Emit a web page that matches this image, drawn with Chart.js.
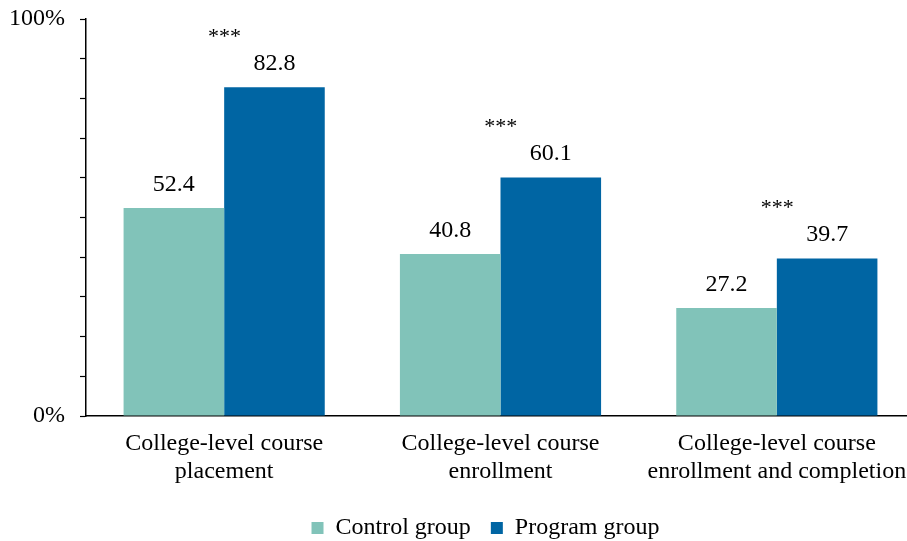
<!DOCTYPE html>
<html>
<head>
<meta charset="utf-8">
<script src="https://cdn.jsdelivr.net/npm/chart.js@4"></script>
<style>
  html, body { margin: 0; padding: 0; background: #fff; overflow: hidden; }
</style>
</head>
<body>
<canvas id="myChart" width="930" height="541"></canvas>
<script>
const categories = [
  ['College-level course', 'placement'],
  ['College-level course', 'enrollment'],
  ['College-level course', 'enrollment and completion']
];
const controlValues = [52.4, 40.8, 27.2];
const programValues = [82.8, 60.1, 39.7];
const programStars = ['***', '***', '***'];
const yTickLabels = { 0: '0%', 100: '100%' };

const font = 'Liberation Serif, Times New Roman, serif';

// value labels and significance stars above the bars
const barLabels = {
  id: 'barLabels',
  afterDatasetsDraw(chart) {
    const ctx = chart.ctx;
    ctx.save();
    ctx.fillStyle = '#000';
    ctx.textAlign = 'center';
    ctx.textBaseline = 'alphabetic';
    chart.data.datasets.forEach(function(ds, i) {
      chart.getDatasetMeta(i).data.forEach(function(bar, j) {
        ctx.font = '24px ' + font;
        ctx.fillText(ds.data[j].toFixed(1), bar.x, bar.y - 17);
        if (i === 1 && programStars[j]) {
          ctx.font = '22px ' + font;
          ctx.fillText(programStars[j], bar.x - 50, bar.y - 44);
        }
      });
    });
    ctx.restore();
  }
};

// nudge the legend to where the original sits
const legendShift = {
  id: 'legendShift',
  afterLayout(chart) {
    const lg = chart.legend;
    lg.left += 28; lg.right += 28;
    lg.top += 9; lg.bottom += 9;
  }
};

new Chart(document.getElementById('myChart'), {
  type: 'bar',
  data: {
    labels: categories,
    datasets: [{
      label: 'Control group',
      data: controlValues,
      backgroundColor: 'rgb(129, 195, 185)'
    },
    {
      label: 'Program group',
      data: programValues,
      backgroundColor: 'rgb(0, 101, 163)'
    }]
  },
  options: {
    responsive: false,
    animation: false,
    devicePixelRatio: 1,
    categoryPercentage: 0.728,
    barPercentage: 1,
    layout: { padding: { top: 19, right: 15, bottom: 0, left: 0 } },
    plugins: {
      tooltip: { enabled: false },
      legend: {
        position: 'bottom',
        labels: {
          color: '#000',
          font: { family: font, size: 24 },
          boxWidth: 12,
          boxHeight: 12,
          padding: 20
        }
      }
    },
    scales: {
      x: {
        afterFit(scale) { scale.height = 71; },
        grid: { display: false, drawTicks: false },
        border: { display: true, color: '#000', width: 1.5 },
        ticks: {
          color: '#000',
          font: { family: font, size: 24, lineHeight: 1.15 },
          padding: 14,
          maxRotation: 0
        }
      },
      y: {
        min: 0,
        max: 100,
        afterFit(scale) {
          scale.width = 86;
          scale.paddingTop = 0;
          scale.paddingBottom = 0;
        },
        grid: { drawOnChartArea: false, tickLength: 6, color: '#000', tickWidth: 1.2 },
        border: { display: true, color: '#000', width: 1.5 },
        ticks: {
          stepSize: 10,
          color: '#000',
          padding: 15,
          font: { family: font, size: 24 },
          callback: function(v) { return yTickLabels[v] || ''; }
        }
      }
    }
  },
  plugins: [barLabels, legendShift]
});
</script>
</body>
</html>
